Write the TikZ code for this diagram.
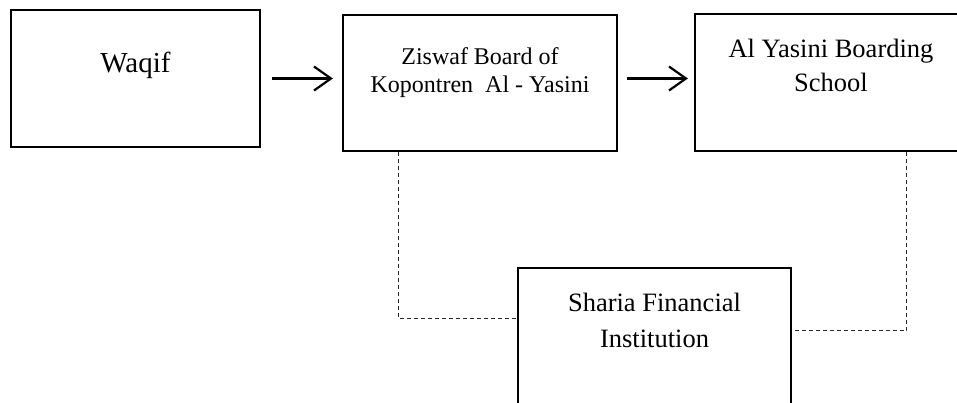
\documentclass[tikz,border=0pt]{standalone}
\usepackage{fontspec}
\setmainfont{Liberation Serif}
\usepackage{tikz}
\usetikzlibrary{positioning}
\usetikzlibrary{arrows.meta}
\tikzset{
    mybox/.style = {rectangle, draw=black, line width=2.2pt, minimum width=#1, minimum height=137pt, inner sep=0pt},
    mybox/.default = 273pt,
    mytext/.style = {align=center, inner sep=0pt, anchor=base},
    myflow/.style = {line width=2.2pt, -{Straight Barb[length=17pt,width=24pt,line width=2.2pt]}},
    mylink/.style = {line width=1.1pt, draw=black!85, dash pattern=on 4pt off 3pt},
}

\begin{document}
\begin{tikzpicture}[x=1pt, y=1pt]
  \useasboundingbox (0,0) rectangle (957,-403);
  \clip (0,0) rectangle (957,-403);

  % boxes
  \node[mybox=249pt] (waqif) at (135.5,-78.5) {};
  \node[mybox=274pt, minimum height=136pt] (ziswaf) at (480,-83) {};
  \node[mybox=272pt] (yasini) at (831,-82.5) {};
  \node[mybox=273pt] (sharia) at (654.5,-336.5) {};

  % texts (base = last line)
  \node[mytext, font=\fontsize{29}{34}\selectfont] (waqiftxt) at ([yshift=-64pt]waqif.north) {Waqif};
  \node[mytext, font=\fontsize{24}{28}\selectfont] (ziswaftxt) at ([yshift=-79pt]ziswaf.north)
    {Ziswaf Board of\\Kopontren\ \ Al - Yasini};
  \node[mytext, font=\fontsize{26.5}{34}\selectfont] (yasinitxt) at ([yshift=-79pt]yasini.north)
    {Al Yasini Boarding\\School};
  \node[mytext, font=\fontsize{26.5}{36}\selectfont] (shariatxt) at ([yshift=-81pt]sharia.north)
    {Sharia Financial\\Institution};

  % arrows
  \draw[myflow, shorten <=11pt, shorten >=9pt] (waqif.east) -- (waqif.east -| ziswaf.west);
  \draw[myflow, shorten <=9pt, shorten >=6pt] (ziswaf.east |- waqif.east) -- (waqif.east -| yasini.west);

  % dashed links
  \coordinate (ziswafdrop) at ([xshift=57pt]ziswaf.south west);
  \coordinate (shariain) at ([yshift=-52pt]sharia.north west);
  \draw[mylink] (ziswafdrop) |- (shariain);
  \coordinate (yasinidrop) at ([xshift=213pt]yasini.south west);
  \coordinate (shariaout) at ([yshift=-64pt]sharia.north east);
  \draw[mylink] (yasinidrop) |- (shariaout);
\end{tikzpicture}
\end{document}
